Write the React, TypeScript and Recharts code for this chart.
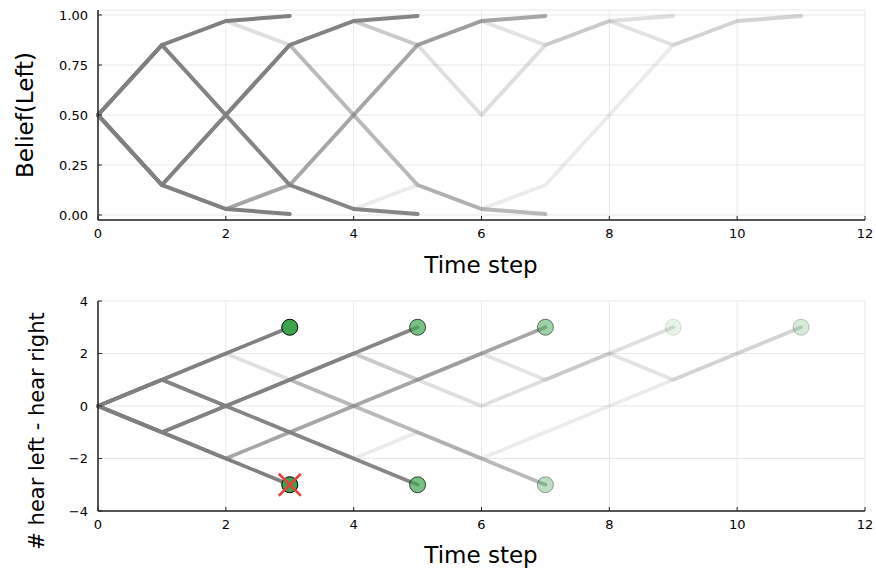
import React from "react";
import {
  ComposedChart,
  Line,
  XAxis,
  YAxis,
  CartesianGrid,
} from "recharts";

const timeTicks = [0, 2, 4, 6, 8, 10, 12];
const beliefTicks = [0, 0.25, 0.5, 0.75, 1];
const countTicks = [-4, -2, 0, 2, 4];

// belief(left) for a given (#left - #right); index = count + 3
const beliefLevels = [0.005, 0.03, 0.15, 0.5, 0.85, 0.97, 0.995];

// # hear left - hear right at every time step, one list per listening run
const pathA = [0, 1, 2, 3];
const pathB = [0, -1, -2, -3];
const pathC = [0, -1, 0, 1, 2, 3];
const pathD = [0, 1, 0, -1, -2, -3];
const pathE = [0, -1, -2, -1, 0, 1, 2, 3];
const pathF = [0, -1, 0, 1, 0, -1, -2, -3];
const pathG = [0, 1, 2, 1, 2, 1, 0, 1, 2, 3];
const pathH = [0, 1, 0, 1, 2, 1, 2, 1, 2, 1, 2, 3];
const pathI = [0, 1, 0, -1, -2, -1, -2, -1, 0, 1, 2, 3];

const paths = [pathA, pathB, pathC, pathD, pathE, pathF, pathG, pathH, pathI];
// run that ended by opening the wrong door
const wrongRun = 1;

// opacity of each run
const lineAlpha = [1, 1, 0.95, 0.95, 0.7, 0.55, 0.25, 0.22, 0.16];
const dotAlpha = [1, 1, 0.7, 0.7, 0.5, 0.35, 0.12, 0.12, 0.1];

const GRAY = "#808080";
const GREEN = "#3da44d";
const RED = "#e8413a";
const FONT = "DejaVu Sans";

const rows = (p: number[]) =>
  p.map((n, t) => ({ t, n, b: beliefLevels[n + 3] }));

const tickStyle = { fill: "#000", fontSize: 13, fontFamily: FONT };

const makeDot = (alpha: number) => (props: any) => (
  <circle
    key={props.key}
    cx={props.cx}
    cy={props.cy}
    r={8}
    fill={GREEN}
    fillOpacity={alpha}
    stroke="#000"
    strokeOpacity={alpha}
    strokeWidth={1}
  />
);

const Cross = (props: any) => (
  <g key={props.key} stroke={RED} strokeWidth={2.5}>
    <line x1={props.cx - 11} y1={props.cy - 11} x2={props.cx + 11} y2={props.cy + 11} />
    <line x1={props.cx - 11} y1={props.cy + 11} x2={props.cx + 11} y2={props.cy - 11} />
  </g>
);

const axisLabel = (text: string, x: number, y: number, rotate = false, size = 23) => (
  <text
    x={x}
    y={y}
    textAnchor="middle"
    dominantBaseline="central"
    transform={rotate ? `rotate(-90 ${x} ${y})` : undefined}
    fontFamily={FONT}
    fontSize={size}
    fill="#000"
  >
    {text}
  </text>
);

const minus = (v: number) => String(v).replace("-", "\u2212");

const axisProps = {
  axisLine: { stroke: "#222", strokeWidth: 1.5 },
  tickLine: { stroke: "#222" },
  tickSize: -4,
  tick: tickStyle,
  interval: 0 as const,
};

export default function App() {
  return (
    <div style={{ position: "absolute", left: 0, top: 0, width: 876, height: 569, background: "#fff" }}>
      <div style={{ position: "absolute", left: 0, top: 0 }}>
        <ComposedChart width={876} height={290} margin={{ top: 10, right: 11, bottom: 40, left: 0 }}>
          <CartesianGrid stroke="#e8e8e8" strokeWidth={1} />
          <XAxis
            type="number"
            dataKey="t"
            domain={[0, 12]}
            ticks={timeTicks}
            height={30}
            tickMargin={13}
            {...axisProps}
          />
          <YAxis
            type="number"
            dataKey="b"
            domain={[-0.025, 1.025]}
            ticks={beliefTicks}
            allowDataOverflow
            width={98}
            tickMargin={14}
            tickFormatter={(v: number) => v.toFixed(2)}
            {...axisProps}
          />
          {paths.map((p, i) => (
            <Line
              key={i}
              data={rows(p)}
              dataKey="b"
              type="linear"
              stroke={GRAY}
              strokeOpacity={lineAlpha[i]}
              strokeWidth={4}
              strokeLinecap="round"
              strokeLinejoin="round"
              dot={false}
              activeDot={false}
              isAnimationActive={false}
            />
          ))}
        </ComposedChart>
        <svg width={876} height={290} style={{ position: "absolute", left: 0, top: 0, pointerEvents: "none" }}>
          {axisLabel("Time step", 481, 265)}
          {axisLabel("Belief(Left)", 25, 115, true)}
        </svg>
      </div>
      <div style={{ position: "absolute", left: 0, top: 290 }}>
        <ComposedChart width={876} height={279} margin={{ top: 11, right: 11, bottom: 28, left: 0 }}>
          <CartesianGrid stroke="#e8e8e8" strokeWidth={1} />
          <XAxis
            type="number"
            dataKey="t"
            domain={[0, 12]}
            ticks={timeTicks}
            height={30}
            tickMargin={13}
            {...axisProps}
          />
          <YAxis
            type="number"
            dataKey="n"
            domain={[-4, 4]}
            ticks={countTicks}
            allowDataOverflow
            width={98}
            tickMargin={14}
            tickFormatter={minus}
            {...axisProps}
          />
          {paths.map((p, i) => (
            <Line
              key={"end" + i}
              data={rows(p).slice(-1)}
              dataKey="n"
              stroke="none"
              dot={makeDot(dotAlpha[i])}
              activeDot={false}
              isAnimationActive={false}
            />
          ))}
          {paths.map((p, i) => (
            <Line
              key={i}
              data={rows(p)}
              dataKey="n"
              type="linear"
              stroke={GRAY}
              strokeOpacity={lineAlpha[i]}
              strokeWidth={3.6}
              strokeLinecap="round"
              strokeLinejoin="round"
              dot={false}
              activeDot={false}
              isAnimationActive={false}
            />
          ))}
          <Line
            data={rows(paths[wrongRun]).slice(-1)}
            dataKey="n"
            stroke="none"
            dot={Cross}
            activeDot={false}
            isAnimationActive={false}
          />
        </ComposedChart>
        <svg width={876} height={279} style={{ position: "absolute", left: 0, top: 0, pointerEvents: "none" }}>
          {axisLabel("Time step", 481, 265)}
          {axisLabel("# hear left - hear right", 37, 141, true, 21)}
        </svg>
      </div>
    </div>
  );
}
